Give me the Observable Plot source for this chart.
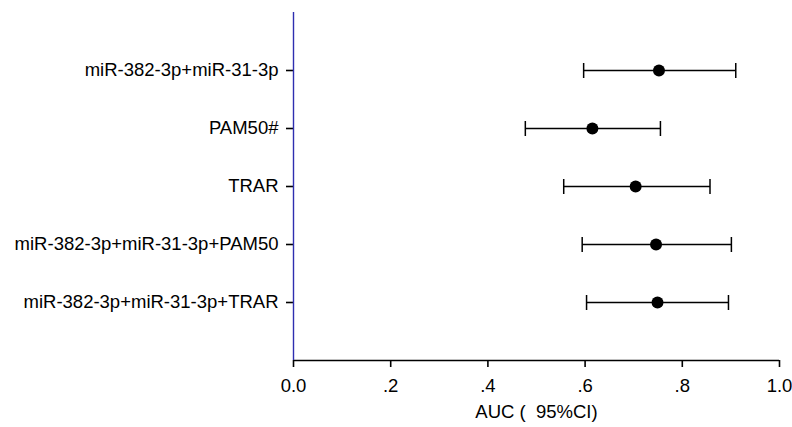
<!DOCTYPE html>
<html>
<head>
<meta charset="utf-8">
<script src="https://cdn.jsdelivr.net/npm/d3@7"></script>
<script src="https://cdn.jsdelivr.net/npm/@observablehq/plot@0.6"></script>
<style>
  html, body { margin: 0; padding: 0; background: #fff; }
  svg { display: block; overflow: visible; }
</style>
</head>
<body>
<div id="chart"></div>
<script>
const labels = [
  "miR-382-3p+miR-31-3p",
  "PAM50#",
  "TRAR",
  "miR-382-3p+miR-31-3p+PAM50",
  "miR-382-3p+miR-31-3p+TRAR"
];
const auc = [0.752, 0.615, 0.704, 0.746, 0.749];
const lower = [0.597, 0.477, 0.556, 0.594, 0.603];
const upper = [0.910, 0.755, 0.857, 0.901, 0.895];
const xTicks = [0, 0.2, 0.4, 0.6, 0.8, 1.0];
const xTickLabels = ["0.0", ".2", ".4", ".6", ".8", "1.0"];
const xLabel = "AUC (\u00a0\u00a095%CI)";

const rows = labels.map((name, k) => ({name, pos: k + 1, auc: auc[k], lo: lower[k], hi: upper[k]}));
const bottom = labels.length + 1;

const capSymbol = {
  draw(context, size) {
    const h = Math.sqrt(size / Math.PI);
    context.moveTo(0, -h);
    context.lineTo(0, h);
  }
};

const chart = Plot.plot({
  width: 792,
  height: 427,
  marginLeft: 293,
  marginRight: 13,
  marginTop: 12,
  marginBottom: 67,
  style: {fontSize: "18.5px", fontFamily: "'Liberation Sans', Arial, sans-serif", color: "#000", background: "#fff", overflow: "visible"},
  x: {domain: [0, 1]},
  y: {domain: [0, bottom], reverse: true},
  marks: [
    Plot.axisX({
      ticks: xTicks,
      tickFormat: (d) => xTickLabels[xTicks.findIndex(t => Math.abs(t - d) < 1e-9)],
      tickSize: 0,
      tickPadding: 18,
      label: null,
      fill: "#000"
    }),
    Plot.axisY({
      ticks: rows.map(r => r.pos),
      tickFormat: (d) => labels[d - 1],
      tickSize: 0,
      tickPadding: 15,
      label: null,
      fill: "#000"
    }),
    Plot.ruleX(xTicks, {x: d => d, y1: () => bottom, y2: () => bottom, insetBottom: -7, stroke: "#000", strokeWidth: 1.6}),
    Plot.ruleY(rows, {y: "pos", x1: () => 0, x2: () => 0, insetLeft: -7, stroke: "#000", strokeWidth: 1.6}),
    Plot.ruleY([bottom], {stroke: "#000", strokeWidth: 1.3}),
    Plot.ruleX([0], {stroke: "#2e2eb0", strokeWidth: 1.4}),
    Plot.link(rows, {x1: "lo", x2: "hi", y1: "pos", y2: "pos", stroke: "#000", strokeWidth: 1.5}),
    Plot.dot(rows, {x: "lo", y: "pos", symbol: capSymbol, r: 7.5, stroke: "#000", strokeWidth: 1.5}),
    Plot.dot(rows, {x: "hi", y: "pos", symbol: capSymbol, r: 7.5, stroke: "#000", strokeWidth: 1.5}),
    Plot.dot(rows, {x: "auc", y: "pos", r: 6, fill: "#000", stroke: "none"}),
    Plot.text([xLabel], {frameAnchor: "bottom", text: d => d, dy: 52, lineAnchor: "middle", fill: "#000"})
  ]
});
document.getElementById("chart").appendChild(chart);
</script>
</body>
</html>
